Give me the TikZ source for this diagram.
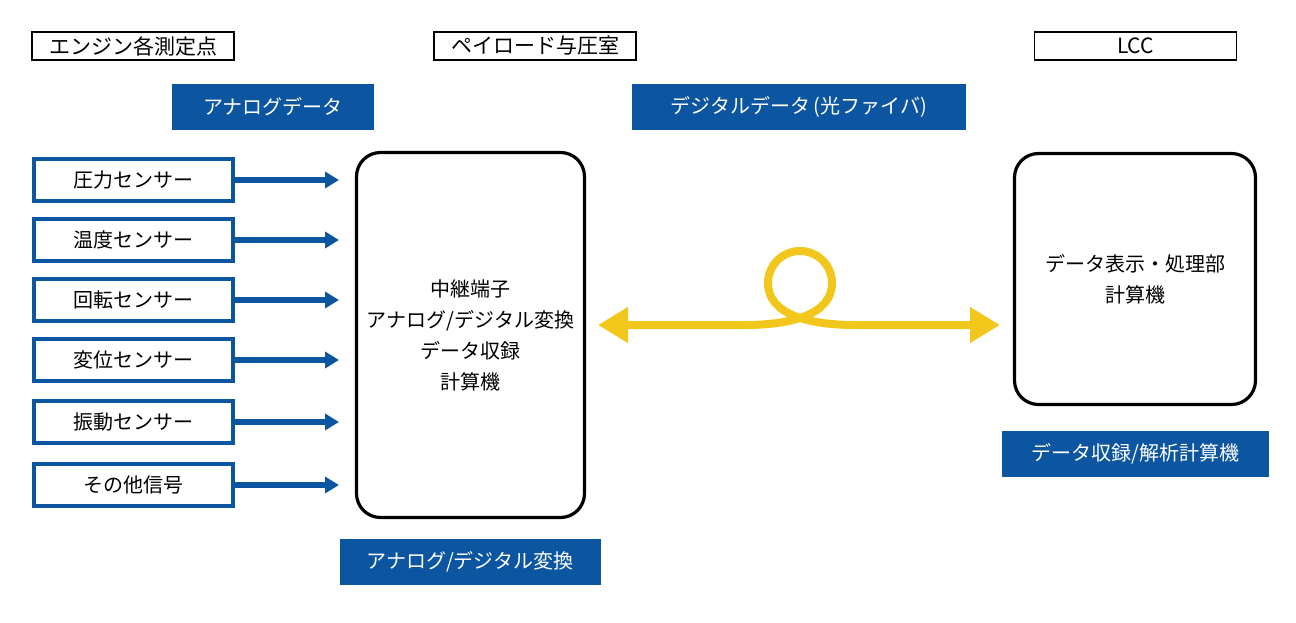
\documentclass[tikz,border=0pt]{standalone}
\usepackage{fontspec}
\setmainfont{Noto Sans CJK JP}
\usepackage{tikz}
\usetikzlibrary{arrows.meta, positioning}
\definecolor{jaxablue}{RGB}{12, 85, 160}
\definecolor{fiberyellow}{RGB}{242, 199, 28}

\begin{document}
\begin{tikzpicture}[x=1pt, y=-1pt,
        every node/.style={font=\fontsize{20}{31}\selectfont, inner sep=0pt},
        place/.style={draw=black, line width=1.6pt, minimum width=202, minimum height=28, font=\fontsize{21}{24}\selectfont},
        labelbox/.style={fill=jaxablue, text=white, minimum height=46},
        sensor/.style={draw=jaxablue, line width=4pt, minimum width=199, minimum height=42},
        unit/.style={draw=black, line width=3.2pt, rounded corners=24pt, align=center},
        signal/.style={jaxablue, line width=5.5pt, -{Triangle[length=14pt, width=16pt]}},
        fiber/.style={fiberyellow, line width=8pt, line cap=round, {Triangle[length=30pt, width=34pt]}-{Triangle[length=30pt, width=34pt]}}]
    \useasboundingbox (0,0) rectangle (1296,623);

    % places
    \node[place] (engine) at (133,46) {エンジン各測定点};
    \node[place] (payload) at (535,46) {ペイロード与圧室};
    \node[place] (lcchead) at (1135.5,46) {LCC};

    % labels
    \node[labelbox, minimum width=202] (analog) at (273,107) {アナログデータ};
    \node[labelbox, minimum width=334] (digital) at (799,107) {デジタルデータ\,(光ファイバ)};
    \node[labelbox, minimum width=267] (record) at (1135.5,454) {データ収録/解析計算機};
    \node[labelbox, minimum width=261] (conv) at (470,562) {アナログ/デジタル変換};

    % computers
    \node[unit, minimum width=228, minimum height=365] (relay) at (470.5,335) {中継端子\\アナログ/デジタル変換\\データ収録\\計算機};
    \node[unit, minimum width=241, minimum height=251] (lcc) at (1135,279) {データ表示・処理部\\計算機};

    % sensors
    \foreach \name/\y/\txt in {press/180/圧力センサー, temp/240/温度センサー, rot/300/回転センサー,
            disp/360/変位センサー, vib/422/振動センサー, other/485/その他信号} {
        \node[sensor] (\name) at (133.5,\y) {\txt};
        \coordinate (\name-in) at (339,\y);
        \draw[signal] (\name) -- (\name-in);
    }

    % optical fiber
    \coordinate (fiberl) at (598,325);
    \coordinate (fiberr) at (1000,325);
    \draw[fiber] (fiberl) -- (745,325) .. controls (790,325) and (832,315) .. (832,283)
        arc[start angle=0, end angle=180, radius=32pt]
        .. controls (768,315) and (810,325) .. (855,325) -- (fiberr);
\end{tikzpicture}
\end{document}
